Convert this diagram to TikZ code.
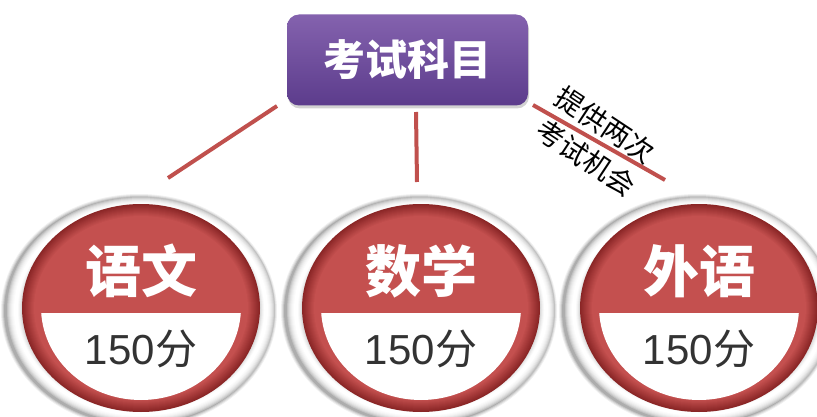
\documentclass[tikz,border=0pt]{standalone}
\usepackage{fontspec}
\setmainfont{Liberation Sans}
\newfontfamily\cjk{Noto Sans CJK SC}
\usetikzlibrary{shadows}
\definecolor{purpTop}{HTML}{8462AE}
\definecolor{purpBot}{HTML}{5C3C8C}
\definecolor{redA}{HTML}{C4504F}
\definecolor{redB}{HTML}{8A2626}
\definecolor{lineRed}{HTML}{C0504D}
\definecolor{ringG}{HTML}{9A9A9A}
\definecolor{scoreC}{HTML}{333333}
\tikzset{
  titlebox/.style={rounded corners=12pt, minimum width=241pt, minimum height=91pt,
    top color=purpTop, bottom color=purpBot, text=white,
    font=\cjk\bfseries\fontsize{42}{50}\selectfont,
    drop shadow={opacity=0.35, shadow xshift=1pt, shadow yshift=-3pt}},
  subj/.style={text=white, font=\cjk\bfseries\fontsize{56}{64}\selectfont, inner sep=0pt},
  score/.style={text=scoreC, font=\fontsize{42}{50}\selectfont, inner sep=0pt},
  note/.style={font=\cjk\fontsize{28}{32}\selectfont, inner sep=0pt, rotate=-33.5},
  conn/.style={draw=lineRed, line width=4pt},
}
\begin{document}
\begin{tikzpicture}[x=1pt, y=-1pt]
\useasboundingbox (0,0) rectangle (817,417);
\fill[white] (0,0) rectangle (817,417);
% circles
\foreach \cx/\a/\n in {141/语文/1, 421/数学/2, 699/外语/3} {
  % soft outer shadow
  \foreach \d/\o in {4/0.06, 3/0.08, 2/0.10, 1/0.12} {
    \fill[black, opacity=\o] (\cx-2,311) ellipse [x radius=134+\d, y radius=113+\d];
  }
  % ring
  \foreach \d/\g in {0/60, 1/45, 2/32, 3/22, 4/14, 5/8, 6/4, 7/0, 10/0, 11/6, 12/14, 13/24, 14/36} {
    \fill[fill=ringG!\g!white] (\cx,310) ellipse [x radius=134-\d, y radius=113-\d];
  }
  % red disc with inner shadow
  \foreach \i in {0,...,12} {
    \pgfmathtruncatemacro{\pp}{\i*100/12}
    \fill[redA!\pp!redB] (\cx,308) ellipse [x radius=119-\i, y radius=104-\i];
  }
  \begin{scope}
    \clip (\cx-130,313) rectangle (\cx+130,420);
    \fill[white] (\cx,307) ellipse [x radius=100, y radius=93];
  \end{scope}
  \node[subj] (s\n) at (\cx,271) {\a};
  \node[score] (p\n) at (\cx,349) {150{\cjk 分}};
}
% title
\node[titlebox] (t) at (407.5,60) {考试科目};
% connectors
\coordinate (la) at (277,106);
\coordinate (lb) at (168,178);
\coordinate (ma) at (416,112);
\coordinate (mb) at (417,182);
\coordinate (ra) at (533,105);
\coordinate (rb) at (665,180);
\draw[conn] (la) -- (lb);
\draw[conn] (ma) -- (mb);
\draw[conn] (ra) -- (rb);
% note
\node[note] (n1) at (605,125) {提供两次};
\node[note] (n2) at (586,158) {考试机会};
\end{tikzpicture}
\end{document}
